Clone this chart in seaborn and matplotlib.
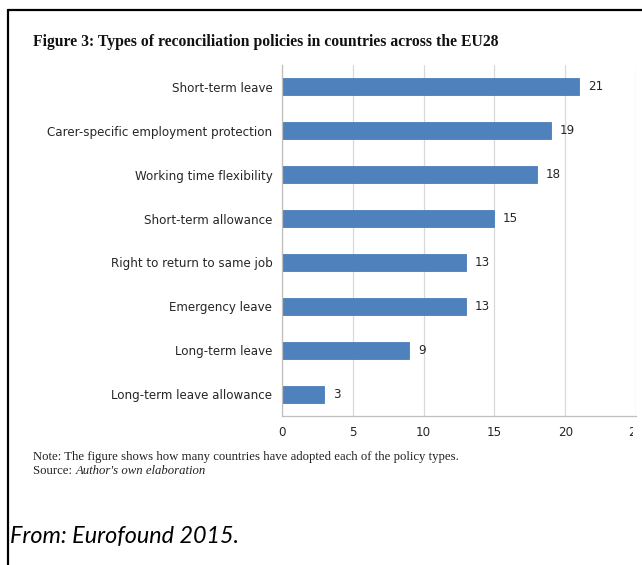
import matplotlib
matplotlib.use("Agg")
import matplotlib.pyplot as plt
from matplotlib.lines import Line2D
from matplotlib.transforms import Bbox
import seaborn as sns
import pandas as pd

categories = [
    "Short-term leave",
    "Carer-specific employment protection",
    "Working time flexibility",
    "Short-term allowance",
    "Right to return to same job",
    "Emergency leave",
    "Long-term leave",
    "Long-term leave allowance",
]
values = [21, 19, 18, 15, 13, 13, 9, 3]
x_ticks = [0, 5, 10, 15, 20, 25]

df = pd.DataFrame({"policy": categories, "countries": values})

sns.set_theme(style="white")
plt.rcParams["font.family"] = ["DejaVu Sans"]

W, H = 642, 565
fig = plt.figure(figsize=(W / 100, H / 100), dpi=100)
fig.patch.set_facecolor("white")

ax = fig.add_axes([282 / W, (H - 416) / H, 354 / W, 351 / H])
sns.barplot(data=df, x="countries", y="policy", order=categories,
            color="#4F81BD", saturation=1, width=0.39, ax=ax,
            edgecolor="#4A7EBB", linewidth=0.6)

ax.set_xlim(0, 25)
ax.set_ylim(len(categories) - 0.5, -0.5)
ax.set_xticks(x_ticks)
ax.set_xticklabels([str(t) for t in x_ticks])
ax.set_xlabel("")
ax.set_ylabel("")

ax.grid(axis="x", color="#D9D9D9", linewidth=0.9)
ax.grid(axis="y", visible=False)
ax.set_axisbelow(True)

for s in ["top", "right"]:
    ax.spines[s].set_visible(False)
for s in ["left", "bottom"]:
    ax.spines[s].set_visible(True)
    ax.spines[s].set_color("#BFBFBF")
    ax.spines[s].set_linewidth(0.9)

ax.tick_params(axis="y", which="major", length=0, pad=7, labelsize=8.6, labelcolor="#262626")
ax.set_yticks([i - 0.5 for i in range(len(categories) + 1)], minor=True)
ax.tick_params(axis="y", which="minor", length=4, width=0.8, color="#BFBFBF", direction="out")
ax.tick_params(axis="x", which="major", length=0, pad=7, labelsize=8.6, labelcolor="#262626")

for i, v in enumerate(values):
    ax.annotate(str(v), xy=(v, i), xytext=(6, 0), textcoords="offset points",
                va="center", ha="left", fontsize=8.6, color="#262626")

# clip last tick label like in the cropped original
fig.canvas.draw()
for lbl in ax.get_xticklabels():
    if lbl.get_text() == "25":
        lbl.set_clip_on(True)
        lbl.set_clip_box(Bbox.from_extents(0, 0, 633, H))

fig.text(33 / W, 1 - 42 / H,
         "Figure 3: Types of reconciliation policies in countries across the EU28",
         family="Liberation Serif", weight="bold", fontsize=11.3,
         va="center", ha="left", color="#111111")

fig.text(33 / W, 1 - 457 / H,
         "Note: The figure shows how many countries have adopted each of the policy types.",
         family="Liberation Serif", fontsize=9.2, va="center", ha="left", color="#222222")
t = fig.text(33 / W, 1 - 471 / H, "Source: ",
             family="Liberation Serif", fontsize=9.2, va="center", ha="left", color="#222222")
fig.canvas.draw()
bb = t.get_window_extent()
fig.text(bb.x1 / W, 1 - 471 / H, "Author's own elaboration",
         family="Liberation Serif", style="italic", fontsize=9.2,
         va="center", ha="left", color="#222222")

fig.text(10 / W, 1 - 537 / H, "From: Eurofound 2015.",
         family="Lato", style="italic", fontsize=16.8, va="center", ha="left", color="black")

# frame lines
fig.add_artist(Line2D([8 / W, 1.0], [1 - 10 / H, 1 - 10 / H], color="black", linewidth=1.6,
                      transform=fig.transFigure))
fig.add_artist(Line2D([8 / W, 8 / W], [1 - 10 / H, 0.0], color="black", linewidth=1.6,
                      transform=fig.transFigure))

fig.savefig("out.png", dpi=100)
